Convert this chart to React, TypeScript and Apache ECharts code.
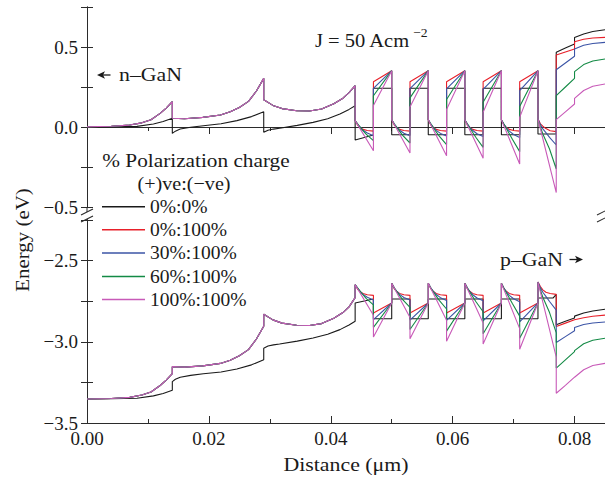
import React, { useEffect, useRef } from "react";
import * as echarts from "echarts";

// ---------- DATA (x in µm, energy in eV) ----------
const seriesNames = ["0%:0%", "0%:100%", "30%:100%", "60%:100%", "100%:100%"];
const xTickLabels = ["0.00", "0.02", "0.04", "0.06", "0.08"];
const yTickLabelsTop = ["−0.5", "0.0", "0.5"];
const yTickLabelsBottom = ["−3.5", "−3.0", "−2.5"];

// Conduction band: region 0 – 0.044 shared by all polarized curves
const cbColoredPrefix: number[][] = [
  [0, 0.002], [0.004, 0.005], [0.007, 0.012], [0.009, 0.026], [0.0105, 0.045], [0.012, 0.085], [0.013, 0.118], [0.014, 0.158],
  [0.014, 0.055], [0.016, 0.052], [0.019, 0.06], [0.0219, 0.075], [0.0235, 0.095], [0.025, 0.122], [0.0265, 0.16], [0.0278, 0.225], [0.029, 0.304],
  [0.029, 0.17], [0.0305, 0.135], [0.032, 0.115], [0.0344, 0.102], [0.0365, 0.1], [0.0385, 0.112], [0.0405, 0.145], [0.042, 0.18], [0.043, 0.215], [0.044, 0.258],
];
const vbColoredPrefix: number[][] = [
  [0, -3.352], [0.004, -3.349], [0.007, -3.342], [0.009, -3.328], [0.0105, -3.309], [0.012, -3.269], [0.013, -3.236], [0.014, -3.196],
  [0.014, -3.153], [0.016, -3.156], [0.019, -3.148], [0.0219, -3.133], [0.0235, -3.113], [0.025, -3.086], [0.0265, -3.048], [0.0278, -2.983], [0.029, -2.904],
  [0.029, -2.83], [0.0305, -2.865], [0.032, -2.885], [0.0344, -2.898], [0.0365, -2.9], [0.0385, -2.888], [0.0405, -2.855], [0.042, -2.82], [0.043, -2.785], [0.044, -2.728],
];

const cbBlack: number[][] = [
  [0, 0.0], [0.004, 0.002], [0.0082, 0.004], [0.0109, 0.019], [0.0125, 0.034], [0.014, 0.055],
  [0.014, -0.04], [0.0145, -0.026], [0.0153, -0.013], [0.017, -0.002], [0.0191, 0.008], [0.022, 0.02], [0.0246, 0.04], [0.027, 0.065], [0.029, 0.096],
  [0.029, -0.033], [0.0297, -0.02], [0.0306, -0.013], [0.0316, -0.008], [0.0345, 0.01], [0.0371, 0.029], [0.0395, 0.052], [0.0415, 0.081], [0.043, 0.11], [0.044, 0.133],
  [0.044, -0.081], [0.047, -0.05],
  [0.047, 0.242], [0.05, 0.242], [0.05, -0.048], [0.053, -0.048],
  [0.053, 0.242], [0.056, 0.242], [0.056, -0.048], [0.059, -0.048],
  [0.059, 0.242], [0.062, 0.242], [0.062, -0.048], [0.065, -0.048],
  [0.065, 0.242], [0.068, 0.242], [0.068, -0.048], [0.071, -0.048],
  [0.071, 0.242], [0.074, 0.242], [0.074, -0.044], [0.077, -0.044],
  [0.077, 0.467], [0.0785, 0.494], [0.08, 0.519], [0.08, 0.56], [0.0815, 0.581], [0.083, 0.597], [0.085, 0.608],
];
const cbRedQW: number[][] = [
  [0.044, 0.04], [0.0444, 0.012], [0.0448, -0.003], [0.0453, -0.015], [0.046, -0.022], [0.047, -0.026],
  [0.047, 0.283], [0.05, 0.352],
  [0.05, 0.045], [0.0504, 0.014], [0.0508, -0.002], [0.0513, -0.015], [0.052, -0.022], [0.053, -0.026],
  [0.053, 0.283], [0.056, 0.352],
  [0.056, 0.045], [0.0564, 0.014], [0.0568, -0.002], [0.0573, -0.015], [0.058, -0.022], [0.059, -0.026],
  [0.059, 0.283], [0.062, 0.352],
  [0.062, 0.045], [0.0624, 0.014], [0.0628, -0.002], [0.0633, -0.015], [0.064, -0.022], [0.065, -0.026],
  [0.065, 0.283], [0.068, 0.352],
  [0.068, 0.045], [0.0684, 0.014], [0.0688, -0.002], [0.0693, -0.015], [0.07, -0.022], [0.071, -0.026],
  [0.071, 0.283], [0.074, 0.352],
  [0.074, 0.05], [0.0744, 0.02], [0.0748, 0.005], [0.0753, -0.01], [0.076, -0.023], [0.077, -0.029],
  [0.077, 0.45], [0.0785, 0.469], [0.08, 0.4875], [0.08, 0.533], [0.0815, 0.548], [0.083, 0.556], [0.085, 0.56],
];
const cbBlueQW: number[][] = [
  [0.044, 0.04], [0.0444, 0.018], [0.0448, 0.0], [0.0453, -0.02], [0.046, -0.038], [0.047, -0.054],
  [0.047, 0.242], [0.05, 0.352],
  [0.05, 0.045], [0.0504, 0.02], [0.0508, 0.0], [0.0513, -0.02], [0.052, -0.039], [0.053, -0.055],
  [0.053, 0.24], [0.056, 0.352],
  [0.056, 0.045], [0.0564, 0.02], [0.0568, 0.0], [0.0573, -0.021], [0.058, -0.04], [0.059, -0.057],
  [0.059, 0.238], [0.062, 0.352],
  [0.062, 0.045], [0.0624, 0.02], [0.0628, -0.001], [0.0633, -0.022], [0.064, -0.042], [0.065, -0.059],
  [0.065, 0.235], [0.068, 0.352],
  [0.068, 0.045], [0.0684, 0.019], [0.0688, -0.003], [0.0693, -0.026], [0.07, -0.047], [0.071, -0.066],
  [0.071, 0.228], [0.074, 0.352],
  [0.074, 0.05], [0.0744, 0.015], [0.0748, -0.012], [0.0753, -0.035], [0.0759, -0.065], [0.077, -0.1125],
  [0.077, 0.358], [0.0785, 0.4], [0.08, 0.442], [0.08, 0.4875], [0.0815, 0.511], [0.083, 0.522], [0.085, 0.529],
];
const cbGreenQW: number[][] = [
  [0.044, 0.04], [0.0445, 0.015], [0.045, -0.01], [0.0458, -0.045], [0.047, -0.085],
  [0.047, 0.195], [0.05, 0.352],
  [0.05, 0.045], [0.0505, 0.016], [0.051, -0.012], [0.0518, -0.052], [0.053, -0.1],
  [0.053, 0.182], [0.056, 0.352],
  [0.056, 0.045], [0.0565, 0.015], [0.057, -0.014], [0.0578, -0.057], [0.059, -0.11],
  [0.059, 0.172], [0.062, 0.352],
  [0.062, 0.045], [0.0625, 0.014], [0.063, -0.017], [0.0638, -0.064], [0.065, -0.127],
  [0.065, 0.155], [0.068, 0.352],
  [0.068, 0.045], [0.0685, 0.012], [0.069, -0.022], [0.0698, -0.076], [0.071, -0.154],
  [0.071, 0.128], [0.074, 0.352],
  [0.074, 0.05], [0.0744, 0.0], [0.0748, -0.044], [0.0759, -0.1375], [0.077, -0.2625],
  [0.077, 0.196], [0.0785, 0.25], [0.08, 0.304], [0.08, 0.346], [0.0815, 0.39], [0.083, 0.412], [0.085, 0.425],
];
const cbMagentaQW: number[][] = [
  [0.044, 0.04], [0.047, -0.148],
  [0.047, 0.135], [0.05, 0.352],
  [0.05, 0.045], [0.053, -0.163],
  [0.053, 0.125], [0.056, 0.352],
  [0.056, 0.045], [0.059, -0.179],
  [0.059, 0.11], [0.062, 0.352],
  [0.062, 0.045], [0.065, -0.196],
  [0.065, 0.092], [0.068, 0.352],
  [0.068, 0.045], [0.071, -0.231],
  [0.071, 0.06], [0.074, 0.352],
  [0.074, 0.05], [0.077, -0.41],
  [0.077, 0.046], [0.0785, 0.095], [0.08, 0.144], [0.08, 0.179], [0.0815, 0.228], [0.083, 0.255], [0.085, 0.269],
];

// Valence band
const vbBlack: number[][] = [
  [0, -3.352], [0.004, -3.351], [0.0082, -3.348], [0.0109, -3.333], [0.0125, -3.318], [0.014, -3.298],
  [0.014, -3.245], [0.0145, -3.231], [0.0153, -3.218], [0.017, -3.207], [0.0191, -3.197], [0.022, -3.186], [0.0246, -3.167], [0.027, -3.142], [0.029, -3.111],
  [0.029, -3.039], [0.0297, -3.026], [0.0306, -3.019], [0.0316, -3.014], [0.0345, -2.996], [0.0371, -2.977], [0.0395, -2.954], [0.0415, -2.925], [0.043, -2.896], [0.044, -2.873],
  [0.044, -2.761], [0.047, -2.736],
  [0.047, -2.858], [0.05, -2.858], [0.05, -2.736], [0.053, -2.736],
  [0.053, -2.858], [0.056, -2.858], [0.056, -2.736], [0.059, -2.736],
  [0.059, -2.858], [0.062, -2.858], [0.062, -2.736], [0.065, -2.736],
  [0.065, -2.858], [0.068, -2.858], [0.068, -2.736], [0.071, -2.736],
  [0.071, -2.858], [0.074, -2.858], [0.074, -2.73], [0.0765, -2.73], [0.077, -2.708],
  [0.077, -2.895], [0.0785, -2.874], [0.08, -2.854], [0.08, -2.842], [0.0815, -2.823], [0.083, -2.81], [0.085, -2.8],
];
const vbRedQW: number[][] = [
  [0.044, -2.648], [0.0444, -2.676], [0.0448, -2.691], [0.0453, -2.703], [0.046, -2.71], [0.047, -2.714],
  [0.047, -2.823], [0.05, -2.761],
  [0.05, -2.64], [0.0504, -2.672], [0.0508, -2.689], [0.0513, -2.702], [0.052, -2.71], [0.053, -2.714],
  [0.053, -2.823], [0.056, -2.761],
  [0.056, -2.64], [0.0564, -2.672], [0.0568, -2.689], [0.0573, -2.702], [0.058, -2.71], [0.059, -2.714],
  [0.059, -2.823], [0.062, -2.761],
  [0.062, -2.64], [0.0624, -2.672], [0.0628, -2.689], [0.0633, -2.702], [0.064, -2.71], [0.065, -2.714],
  [0.065, -2.823], [0.068, -2.761],
  [0.068, -2.64], [0.0684, -2.672], [0.0688, -2.689], [0.0693, -2.702], [0.07, -2.71], [0.071, -2.714],
  [0.071, -2.823], [0.074, -2.761],
  [0.074, -2.632], [0.0744, -2.66], [0.0748, -2.68], [0.0753, -2.695], [0.076, -2.703], [0.077, -2.708],
  [0.077, -2.906], [0.0785, -2.885], [0.08, -2.864], [0.08, -2.868], [0.0815, -2.852], [0.083, -2.843], [0.085, -2.836],
];
const vbBlueQW: number[][] = [
  [0.044, -2.648], [0.0444, -2.67], [0.0448, -2.688], [0.0453, -2.708], [0.046, -2.726], [0.047, -2.742],
  [0.047, -2.864], [0.05, -2.761],
  [0.05, -2.64], [0.0504, -2.668], [0.0508, -2.688], [0.0513, -2.708], [0.052, -2.727], [0.053, -2.743],
  [0.053, -2.866], [0.056, -2.761],
  [0.056, -2.64], [0.0564, -2.668], [0.0568, -2.688], [0.0573, -2.709], [0.058, -2.728], [0.059, -2.745],
  [0.059, -2.868], [0.062, -2.761],
  [0.062, -2.64], [0.0624, -2.668], [0.0628, -2.689], [0.0633, -2.71], [0.064, -2.73], [0.065, -2.747],
  [0.065, -2.871], [0.068, -2.761],
  [0.068, -2.64], [0.0684, -2.669], [0.0688, -2.691], [0.0693, -2.714], [0.07, -2.735], [0.071, -2.754],
  [0.071, -2.878], [0.074, -2.761],
  [0.074, -2.632], [0.0744, -2.668], [0.0748, -2.695], [0.0753, -2.72], [0.0759, -2.752], [0.077, -2.805],
  [0.077, -3.004], [0.0785, -2.968], [0.08, -2.932], [0.08, -2.912], [0.0815, -2.893], [0.083, -2.884], [0.085, -2.878],
];
const vbGreenQW: number[][] = [
  [0.044, -2.648], [0.0445, -2.673], [0.045, -2.698], [0.0458, -2.733], [0.047, -2.773],
  [0.047, -2.911], [0.05, -2.761],
  [0.05, -2.64], [0.0505, -2.672], [0.051, -2.7], [0.0518, -2.74], [0.053, -2.788],
  [0.053, -2.924], [0.056, -2.761],
  [0.056, -2.64], [0.0565, -2.673], [0.057, -2.702], [0.0578, -2.745], [0.059, -2.798],
  [0.059, -2.934], [0.062, -2.761],
  [0.062, -2.64], [0.0625, -2.674], [0.063, -2.705], [0.0638, -2.752], [0.065, -2.815],
  [0.065, -2.951], [0.068, -2.761],
  [0.068, -2.64], [0.0685, -2.676], [0.069, -2.71], [0.0698, -2.764], [0.071, -2.842],
  [0.071, -2.978], [0.074, -2.761],
  [0.074, -2.632], [0.0744, -2.682], [0.0748, -2.726], [0.0759, -2.82], [0.077, -2.945],
  [0.077, -3.162], [0.0785, -3.111], [0.08, -3.06], [0.08, -3.054], [0.0815, -3.012], [0.083, -2.99], [0.085, -2.978],
];
const vbMagentaQW: number[][] = [
  [0.044, -2.648], [0.047, -2.836],
  [0.047, -2.971], [0.05, -2.761],
  [0.05, -2.64], [0.053, -2.851],
  [0.053, -2.981], [0.056, -2.761],
  [0.056, -2.64], [0.059, -2.867],
  [0.059, -2.996], [0.062, -2.761],
  [0.062, -2.64], [0.065, -2.884],
  [0.065, -3.014], [0.068, -2.761],
  [0.068, -2.64], [0.071, -2.919],
  [0.071, -3.046], [0.074, -2.761],
  [0.074, -2.632], [0.077, -3.095],
  [0.077, -3.317], [0.0785, -3.268], [0.08, -3.218], [0.08, -3.222], [0.0815, -3.172], [0.083, -3.146], [0.085, -3.133],
];

const cbData = [
  cbBlack,
  [...cbColoredPrefix, ...cbRedQW],
  [...cbColoredPrefix, ...cbBlueQW],
  [...cbColoredPrefix, ...cbGreenQW],
  [...cbColoredPrefix, ...cbMagentaQW],
];
const vbData = [
  vbBlack,
  [...vbColoredPrefix, ...vbRedQW],
  [...vbColoredPrefix, ...vbBlueQW],
  [...vbColoredPrefix, ...vbGreenQW],
  [...vbColoredPrefix, ...vbMagentaQW],
];

// ---------- STYLE ----------
const FONT = "'Liberation Serif', 'Times New Roman', serif";
const TXT = "#1a1a1a";
const AX = "#2b2b2b";
const colors = ["#1a1a1a", "#e8202a", "#3b54a6", "#138a45", "#c85ab8"];

const xLabel = (v: number) => {
  const s = v.toFixed(2);
  return xTickLabels.includes(s) && Math.abs(v - parseFloat(s)) < 1e-7 ? s : "";
};
const yLabelFn = (list: string[]) => (v: number) => {
  const s = v.toFixed(1).replace("-", "\u2212");
  return list.includes(s) && Math.abs(v * 2 - Math.round(v * 2)) < 1e-7 ? s : "";
};

const axisLine = { show: true, lineStyle: { color: AX, width: 1 } };
const labelStyle = { fontFamily: FONT, fontSize: 19, color: TXT };

function buildOption(): any {
  const grids = [
    { left: 87, top: 7, width: 518.5, height: 200 },
    { left: 87, top: 220, width: 518.5, height: 203 },
  ];
  const xAxes = [
    {
      gridIndex: 0, type: "value", min: 0, max: 0.085, interval: 0.02, position: "top",
      axisLine, axisTick: { show: true, inside: true, length: 7, lineStyle: { color: AX } },
      axisLabel: { show: false }, splitLine: { show: false },
    },
    {
      gridIndex: 0, type: "value", min: 0, max: 0.085, interval: 0.01, position: "top",
      axisLine: { show: false }, axisTick: { show: true, inside: true, length: 4, lineStyle: { color: AX } },
      axisLabel: { show: false }, splitLine: { show: false },
    },
    {
      gridIndex: 1, type: "value", min: 0, max: 0.085, interval: 0.02, position: "bottom",
      axisLine, axisTick: { show: true, inside: true, length: 7, lineStyle: { color: AX } },
      axisLabel: { ...labelStyle, margin: 6, formatter: xLabel, showMaxLabel: false },
      splitLine: { show: false },
    },
    {
      gridIndex: 1, type: "value", min: 0, max: 0.085, interval: 0.01, position: "bottom",
      axisLine: { show: false }, axisTick: { show: true, inside: true, length: 4, lineStyle: { color: AX } },
      axisLabel: { show: false }, splitLine: { show: false },
    },
  ];
  const yCommon = (grid: number, min: number, max: number, pos: string, labels: string[] | null) => ({
    gridIndex: grid, type: "value", min, max, interval: 0.25, position: pos,
    axisLine, axisTick: { show: true, inside: true, length: 6, lineStyle: { color: AX } },
    axisLabel: labels ? { ...labelStyle, margin: 9, formatter: yLabelFn(labels) } : { show: false },
    splitLine: { show: false },
  });
  const yAxes = [
    yCommon(0, -0.5, 0.75, "left", yTickLabelsTop),
    yCommon(0, -0.5, 0.75, "right", null),
    yCommon(1, -3.5, -2.25, "left", yTickLabelsBottom),
    yCommon(1, -3.5, -2.25, "right", null),
  ];
  const series: any[] = [];
  seriesNames.forEach((name, i) => {
    series.push({
      name, type: "line", xAxisIndex: 0, yAxisIndex: 0, data: cbData[i],
      showSymbol: false, symbol: "none", clip: true,
      lineStyle: { color: colors[i], width: 1.1 }, itemStyle: { color: colors[i] },
    });
    series.push({
      name, type: "line", xAxisIndex: 2, yAxisIndex: 2, data: vbData[i],
      showSymbol: false, symbol: "none", clip: true,
      lineStyle: { color: colors[i], width: 1.1 }, itemStyle: { color: colors[i] },
    });
  });

  const txt = (text: string, x: number, y: number, opts: any = {}) => ({
    type: "text", x, y, scaleX: opts.scaleX ?? 1.1, rotation: opts.rotation ?? 0,
    style: {
      text, fill: TXT, fontFamily: FONT, fontSize: opts.fontSize ?? 19,
      align: opts.align ?? "left", verticalAlign: "middle",
    },
    z: 10,
  });
  const legendRows = [206.7, 229.7, 253, 276.5, 299.5];
  const graphic: any[] = [
    txt("% Polarization charge", 196, 160, { align: "center", scaleX: 1.12 }),
    txt("(+)ve:(\u2212ve)", 184, 183.5, { align: "center", scaleX: 1.06 }),
    ...seriesNames.map((n, i) => ({
      type: "line", shape: { x1: 102, y1: legendRows[i], x2: 145, y2: legendRows[i] },
      style: { stroke: colors[i], lineWidth: 1.6 }, z: 10,
    })),
    ...seriesNames.map((n, i) => txt(n, 150, legendRows[i], { scaleX: 1.03 })),
    txt("J = 50 Acm", 315, 40, { scaleX: 1.08 }),
    txt("\u22122", 413, 33, { fontSize: 13, scaleX: 1.05 }),
    txt("n\u2013GaN", 119, 75, { scaleX: 1.15 }),
    {
      type: "polygon", shape: { points: [[97, 75], [105, 71.3], [103, 75], [105, 78.7]] },
      style: { fill: TXT }, z: 10,
    },
    { type: "line", shape: { x1: 103, y1: 75, x2: 110.5, y2: 75 }, style: { stroke: TXT, lineWidth: 1.3 }, z: 10 },
    txt("p\u2013GaN", 500, 260, { scaleX: 1.15 }),
    {
      type: "polygon", shape: { points: [[583, 259.5], [575, 255.8], [577, 259.5], [575, 263.2]] },
      style: { fill: TXT }, z: 10,
    },
    { type: "line", shape: { x1: 569.5, y1: 259.5, x2: 577, y2: 259.5 }, style: { stroke: TXT, lineWidth: 1.3 }, z: 10 },
    txt("Energy (eV)", 22, 240, { align: "center", rotation: Math.PI / 2, scaleX: 1.1 }),
    txt("Distance (\u03bcm)", 346, 465, { align: "center", scaleX: 1.15 }),
    // axis break marks
    { type: "line", shape: { x1: 81, y1: 215, x2: 93, y2: 209 }, style: { stroke: AX, lineWidth: 1.1 }, z: 10 },
    { type: "line", shape: { x1: 81, y1: 222, x2: 93, y2: 216 }, style: { stroke: AX, lineWidth: 1.1 }, z: 10 },
    { type: "line", shape: { x1: 87, y1: 207, x2: 87, y2: 212 }, style: { stroke: AX, lineWidth: 1 }, z: 10 },
    { type: "line", shape: { x1: 87, y1: 219, x2: 87, y2: 220 }, style: { stroke: AX, lineWidth: 1 }, z: 10 },
    { type: "line", shape: { x1: 597, y1: 215, x2: 607, y2: 210 }, style: { stroke: AX, lineWidth: 1.1 }, z: 10 },
    { type: "line", shape: { x1: 597, y1: 222, x2: 607, y2: 217 }, style: { stroke: AX, lineWidth: 1.1 }, z: 10 },
  ];

  return {
    animation: false,
    backgroundColor: "#ffffff",
    grid: grids,
    xAxis: xAxes,
    yAxis: yAxes,
    series,
    graphic,
  };
}

export default function App() {
  const ref = useRef<HTMLDivElement>(null);
  useEffect(() => {
    if (!ref.current) return;
    const chart = echarts.init(ref.current, undefined, { renderer: "svg" });
    chart.setOption(buildOption());
    return () => chart.dispose();
  }, []);
  return (
    <div
      ref={ref}
      style={{ position: "fixed", left: 0, top: 0, width: 605, height: 478, background: "#fff" }}
    />
  );
}
